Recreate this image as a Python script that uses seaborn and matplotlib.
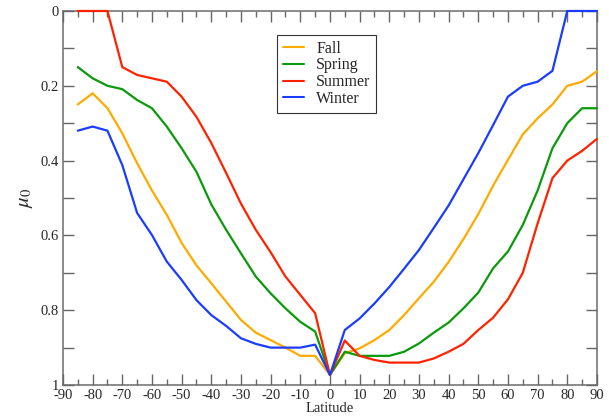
import numpy as np
import pandas as pd
import matplotlib
matplotlib.use("Agg")
import matplotlib.pyplot as plt
import seaborn as sns

latitude = list(range(-85, 95, 5))

fall = [0.25, 0.22, 0.26, 0.327, 0.407, 0.48, 0.545, 0.62, 0.68, 0.728, 0.777, 0.826,
        0.86, 0.88, 0.90, 0.922, 0.922, 0.973, 0.915, 0.902, 0.88, 0.853, 0.813, 0.768,
        0.724, 0.671, 0.61, 0.543, 0.467, 0.398, 0.33, 0.287, 0.25, 0.20, 0.189, 0.161]
spring = [0.15, 0.18, 0.20, 0.209, 0.238, 0.26, 0.309, 0.367, 0.43, 0.517, 0.585, 0.648,
          0.71, 0.755, 0.795, 0.831, 0.857, 0.973, 0.911, 0.922, 0.922, 0.922, 0.911, 0.889,
          0.86, 0.833, 0.795, 0.753, 0.688, 0.643, 0.572, 0.48, 0.367, 0.30, 0.26, 0.26]
summer = [0.0, 0.0, 0.0, 0.15, 0.171, 0.18, 0.189, 0.229, 0.283, 0.353, 0.433, 0.515,
          0.585, 0.645, 0.71, 0.759, 0.808, 0.973, 0.881, 0.922, 0.933, 0.94, 0.94, 0.94,
          0.929, 0.911, 0.89, 0.853, 0.82, 0.771, 0.70, 0.568, 0.447, 0.40, 0.374, 0.342]
winter = [0.32, 0.309, 0.32, 0.412, 0.54, 0.599, 0.67, 0.719, 0.773, 0.813, 0.842, 0.875,
          0.89, 0.90, 0.90, 0.90, 0.892, 0.973, 0.853, 0.822, 0.782, 0.738, 0.689, 0.639,
          0.58, 0.52, 0.45, 0.38, 0.305, 0.229, 0.20, 0.189, 0.16, 0.0, 0.0, 0.0]

seasons = ["Fall", "Spring", "Summer", "Winter"]
colors = ["#ffaa00", "#0a9a0a", "#ff2200", "#1a3cff"]

x_ticks = list(range(-90, 100, 10))
x_tick_labels = [str(v) for v in x_ticks]
y_ticks = [0, 0.2, 0.4, 0.6, 0.8, 1.0]
y_tick_labels = ["0", "0.2", "0.4", "0.6", "0.8", "1"]

df = pd.DataFrame({
    "Latitude": latitude * 4,
    "mu0": fall + spring + summer + winter,
    "Season": sum([[s] * len(latitude) for s in seasons], []),
})

sns.set_style("ticks")
plt.rcParams["font.family"] = ["Liberation Serif", "DejaVu Serif"]
plt.rcParams["mathtext.fontset"] = "stix"
plt.rcParams["axes.unicode_minus"] = False

fig = plt.figure(figsize=(6.09, 4.18), dpi=100)
ax = fig.add_axes([0.1034, 0.0789, 0.8768, 0.8948])

sns.lineplot(data=df, x="Latitude", y="mu0", hue="Season", hue_order=seasons,
             palette=colors, linewidth=1.6, ax=ax, legend=True)
for line in ax.get_lines():
    line.set_clip_on(False)

ax.set_xlim(-90, 90)
ax.set_ylim(1, 0)
ax.set_xticks(x_ticks)
ax.set_xticklabels(x_tick_labels)
ax.set_xticks(list(range(-85, 90, 10)), minor=True)
all_y = np.round(np.arange(0, 1.01, 0.1), 1)
ax.set_yticks(all_y)
ax.set_yticklabels([y_tick_labels[y_ticks.index(v)] if v in y_ticks else "" for v in all_y])

ax.tick_params(axis="both", which="major", direction="in", length=8, width=1.0,
               color="#666666", top=True, right=True, labelsize=10.5, pad=3)
ax.tick_params(axis="x", which="minor", direction="in", length=4, width=1.0,
               color="#666666", top=True, bottom=True)
for sp in ax.spines.values():
    sp.set_color("#777777")
    sp.set_linewidth(1.2)
    sp.set_zorder(0.5)

ax.set_xlabel("Latitude", fontsize=10.5, labelpad=0)
ax.set_ylabel(r"$\mu_0$", fontsize=15, labelpad=4)

leg = ax.legend(loc="upper left", bbox_to_anchor=(0.401, 0.936), borderaxespad=0,
                frameon=True, fancybox=False, edgecolor="black", fontsize=11.5,
                handlelength=1.35, borderpad=0.35, labelspacing=0.05, handletextpad=0.75)
leg.get_frame().set_linewidth(0.8)
for line in leg.get_lines():
    line.set_linewidth(1.5)

fig.savefig("out.png", dpi=100)
